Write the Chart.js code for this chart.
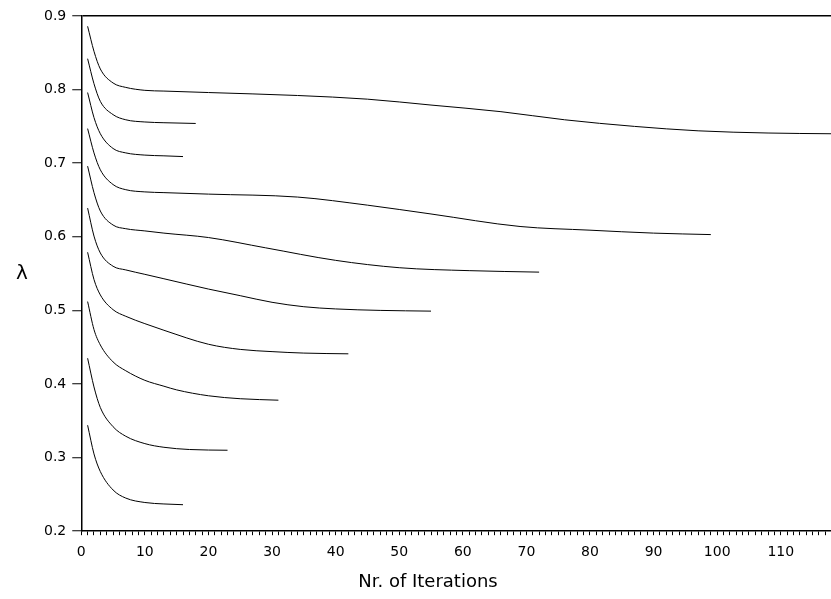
<!DOCTYPE html>
<html>
<head>
<meta charset="utf-8">
<script src="https://cdn.jsdelivr.net/npm/chart.js@4/dist/chart.umd.min.js"></script>
<style>
  html, body { margin: 0; padding: 0; background: #fff; }
  #chart { display: block; }
</style>
</head>
<body>
<canvas id="chart" width="831" height="599"></canvas>
<script>
// one curve per starting value of lambda, iterations vs lambda
var iters1 = [1, 2, 3, 5, 7, 10, 13, 20, 34, 45, 55, 66, 76, 87, 97, 108, 118];
var lambda1 = [0.886, 0.852, 0.828, 0.809, 0.803, 0.799, 0.798, 0.796, 0.792, 0.787, 0.779, 0.770, 0.759, 0.750, 0.744, 0.741, 0.740];

var iters2 = [1, 2, 3, 5, 7, 10, 13, 18];
var lambda2 = [0.842, 0.808, 0.784, 0.766, 0.759, 0.756, 0.755, 0.754];

var iters3 = [1, 2, 3, 5, 7, 10, 13, 16];
var lambda3 = [0.796, 0.762, 0.740, 0.720, 0.714, 0.711, 0.710, 0.709];

var iters4 = [1, 2, 3, 5, 7, 10, 13, 20, 34, 45, 55, 69, 80, 90, 99];
var lambda4 = [0.747, 0.714, 0.691, 0.671, 0.664, 0.661, 0.660, 0.658, 0.654, 0.643, 0.631, 0.614, 0.609, 0.605, 0.603];

var iters5 = [1, 2, 3, 5, 7, 10, 13, 20, 29, 40, 50, 61, 72];
var lambda5 = [0.696, 0.660, 0.635, 0.616, 0.611, 0.608, 0.605, 0.599, 0.585, 0.568, 0.558, 0.554, 0.552];

var iters6 = [1, 2, 3, 5, 7, 10, 13, 20, 25, 30, 35, 40, 47, 55];
var lambda6 = [0.639, 0.601, 0.578, 0.560, 0.555, 0.549, 0.543, 0.529, 0.520, 0.511, 0.505, 0.502, 0.500, 0.499];

var iters7 = [1, 2, 3, 5, 7, 10, 13, 20, 25, 30, 35, 42];
var lambda7 = [0.579, 0.542, 0.521, 0.501, 0.492, 0.482, 0.473, 0.454, 0.447, 0.444, 0.442, 0.441];

var iters8 = [1, 2, 3, 5, 7, 10, 13, 15, 20, 25, 31];
var lambda8 = [0.512, 0.474, 0.453, 0.430, 0.418, 0.405, 0.397, 0.392, 0.384, 0.380, 0.378];

var iters9 = [1, 2, 3, 5, 7, 10, 13, 17, 23];
var lambda9 = [0.435, 0.396, 0.368, 0.342, 0.329, 0.319, 0.314, 0.311, 0.310];

var iters10 = [1, 2, 3, 5, 7, 10, 13, 16];
var lambda10 = [0.344, 0.305, 0.281, 0.256, 0.245, 0.239, 0.237, 0.236];

var yTicks = [0.2, 0.3, 0.4, 0.5, 0.6, 0.7, 0.8, 0.9];
var xAxisTitle = 'Nr. of Iterations';
var yAxisTitle = '\u03bb';

var FONT = '"DejaVu Sans", "Liberation Sans", sans-serif';

var curves = [
    [iters1, lambda1], [iters2, lambda2], [iters3, lambda3], [iters4, lambda4], [iters5, lambda5],
    [iters6, lambda6], [iters7, lambda7], [iters8, lambda8], [iters9, lambda9], [iters10, lambda10]
];

var datasets = curves.map(function (c, n) {
    return {
        label: 'run ' + (n + 1),
        data: c[0].map(function (x, i) { return { x: x, y: c[1][i] }; }),
        borderColor: '#000',
        borderWidth: 1,
        pointRadius: 0,
        fill: false,
        cubicInterpolationMode: 'monotone'
    };
});

// axis titles drawn as text outside the plot
var axisTitles = {
    id: 'axisTitles',
    afterDraw: function (chart) {
        var ctx = chart.ctx;
        var area = chart.chartArea;
        ctx.save();
        ctx.fillStyle = '#000';
        ctx.textAlign = 'center';
        ctx.textBaseline = 'middle';
        ctx.font = '18px ' + FONT;
        ctx.fillText(xAxisTitle, 428, 582);
        ctx.font = '20px ' + FONT;
        ctx.fillText(yAxisTitle, 22, (area.top + area.bottom) / 2);
        ctx.restore();
    }
};

var chart = new Chart(document.getElementById('chart').getContext('2d'), {
    type: 'line',
    data: { datasets: datasets },
    options: {
        responsive: false,
        animation: false,
        layout: { padding: { left: 38, right: 0, top: 16, bottom: 29 } },
        plugins: { legend: { display: false }, tooltip: { enabled: false } },
        scales: {
            x: {
                type: 'linear',
                min: 0,
                max: 117.9,
                afterFit: function (axis) { axis.paddingRight = 0; },
                border: { display: true, color: '#000', width: 1.5 },
                grid: { drawOnChartArea: false, tickLength: 4, color: '#000', tickColor: '#000', tickWidth: 1 },
                ticks: {
                    stepSize: 1,
                    autoSkip: false,
                    includeBounds: false,
                    maxRotation: 0,
                    padding: 9,
                    color: '#000',
                    font: { family: FONT, size: 14 },
                    callback: function (v) { return v % 10 === 0 ? String(v) : ''; }
                }
            },
            y: {
                type: 'linear',
                min: 0.2,
                max: 0.9,
                afterBuildTicks: function (axis) {
                    axis.ticks = yTicks.map(function (v) { return { value: v }; });
                },
                border: { display: true, color: '#000', width: 1.5 },
                grid: {
                    drawOnChartArea: true,
                    tickLength: 9,
                    lineWidth: 1.5,
                    tickWidth: 1,
                    tickColor: '#000',
                    color: function (c) {
                        return c.tick && Math.abs(c.tick.value - 0.9) < 1e-6 ? '#000' : 'rgba(0,0,0,0)';
                    }
                },
                ticks: {
                    padding: 6,
                    color: '#000',
                    font: { family: FONT, size: 14 },
                    callback: function (v) { return Number(v).toFixed(1); }
                }
            }
        }
    },
    plugins: [axisTitles]
});
</script>
</body>
</html>
